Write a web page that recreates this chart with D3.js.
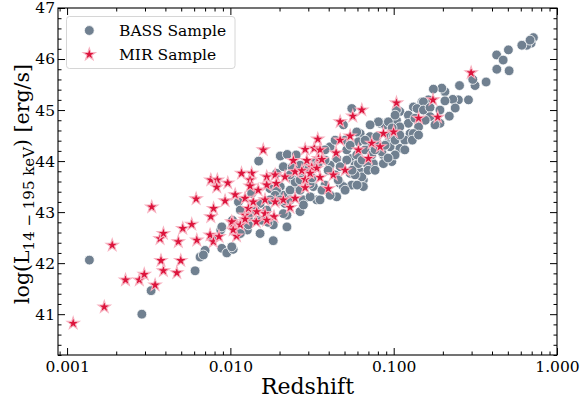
<!DOCTYPE html>
<html><head><meta charset="utf-8">
<script src="https://cdn.jsdelivr.net/npm/d3@7"></script>
<style>
body{margin:0;background:#fff}
svg{display:block}
text{font-family:"DejaVu Serif",serif;fill:#000}
</style>
</head><body>
<svg id="c" width="582" height="402"></svg>
<script>
// ---------------- data ----------------
const bassZ = [0.00137,0.00287,0.00327,0.00608,0.00652,0.00700,0.00787,0.00886,0.00873,0.00951,
0.0104,0.0103,0.0127,0.0115,0.0152,0.0183,0.0222,0.0149,0.0202,0.0223,
0.0253,0.0135,0.00886,0.0102,0.0112,0.0129,0.0202,0.0152,0.0183,0.0211,
0.0222,0.00683,0.0175,0.0211,0.0255,0.0322,0.0338,0.0280,0.0267,0.0115,
0.0129,0.0167,0.0192,0.0243,0.0408,0.0448,0.0541,0.0580,0.0623,0.0652,
0.0554,0.0470,0.0354,0.0448,0.0541,0.0623,0.0717,0.0788,0.0608,0.0516,
0.0408,0.0470,0.0274,0.0211,0.0192,0.0308,0.0216,0.0280,0.0751,0.0865,
0.0915,0.0554,0.0492,0.0826,0.0886,0.132,0.149,0.163,0.109,0.123,
0.104,0.123,0.109,0.0928,0.142,0.0974,0.109,0.0951,0.0846,0.0734,
0.0684,0.0865,0.0788,0.0928,0.126,0.0594,0.0608,0.0638,0.0652,0.0492,
0.0594,0.0516,0.0717,0.717,0.694,0.653,0.609,0.684,0.504,0.427,
0.468,0.428,0.509,0.368,0.315,0.253,0.305,0.287,0.249,0.230,
0.206,0.197,0.175,0.206,0.152,0.139,0.152,0.167,0.219,0.192,
0.167,0.104,0.132,0.0996,0.0806,0.0188,0.0232,0.0287,0.0380,0.0330,
0.0170,0.0142,0.0239,0.0438,0.0504,0.0668,0.102,0.117,0.135,0.0978,
0.0380,0.0232,0.0148,0.0175,0.0308,0.0249,0.0504,0.0580,0.0734,
0.0267,0.0316,0.0364,0.0397,0.0457,0.0556,0.0641,0.0697,0.0769,0.0886,
0.102,0.117,0.130,0.142,0.156,0.179,0.192,0.238,0.102,0.0717,
0.0668,0.0541,0.0438,0.0380,0.0267,0.0232,0.0202,0.0156,0.0267,0.0344,
0.0408,0.0597,0.0769,0.0924,0.109];
const bassL = [42.06,41.00,41.46,41.85,42.12,42.25,42.48,42.29,42.65,42.20,
42.27,42.84,42.65,42.58,42.58,42.44,42.94,44.00,44.10,44.13,
44.12,43.37,42.71,42.32,43.20,42.75,43.50,43.17,42.75,42.97,
42.71,42.16,43.46,43.33,43.50,43.50,43.24,43.24,43.01,43.04,
42.91,43.04,43.76,43.63,44.28,44.05,44.05,43.92,43.79,43.63,
43.53,43.56,43.24,43.30,43.76,44.54,44.48,44.38,44.38,44.22,
43.92,43.89,43.66,43.89,43.43,43.30,43.17,43.14,43.95,44.12,
44.35,45.03,44.71,44.74,44.71,45.06,45.16,45.20,44.97,44.90,
44.80,44.74,44.67,44.77,44.67,43.99,44.25,44.28,44.18,44.18,
43.95,43.95,44.48,44.51,44.54,44.57,43.95,43.69,43.50,43.50,
44.12,44.02,44.31,46.42,46.31,46.27,46.27,46.37,46.18,46.08,
45.98,45.80,45.77,45.55,45.48,45.48,45.60,45.20,45.20,45.21,
45.36,45.43,45.41,45.18,45.16,45.03,45.00,45.05,44.88,44.74,
44.87,45.00,44.54,44.48,44.77,43.33,43.43,43.86,43.53,43.98,
42.80,43.04,43.88,43.73,44.41,44.22,44.41,44.41,44.84,44.65,
44.02,43.24,42.84,43.24,43.55,43.59,43.43,43.73,44.12,
43.43,43.67,43.43,43.82,43.63,43.82,44.02,43.82,44.22,44.31,
44.12,44.22,44.41,44.51,44.80,44.71,45.00,45.04,44.90,44.71,
44.41,44.31,44.41,44.22,43.92,43.73,43.24,42.84,43.63,43.94,
43.33,43.53,43.82,44.06,44.51];

const mirZ = [0.00109,0.00169,0.00189,0.00228,0.00277,0.00297,0.00346,0.00330,0.00376,0.00389,
0.00371,0.00389,0.00470,0.00497,0.00480,0.00511,0.00580,0.00623,0.00617,0.00751,
0.00759,0.00789,0.00787,0.0104,0.0109,0.0123,0.0144,0.0185,0.0163,0.0232,
0.0115,0.0123,0.0159,0.0243,0.0249,0.0117,0.0135,0.00759,0.00832,0.00964,
0.00825,0.0132,0.0167,0.0188,0.0216,0.0167,0.0148,0.0132,0.0107,0.00928,
0.0123,0.0191,0.0129,0.0145,0.0163,0.0188,0.0211,0.0102,0.0167,0.00852,
0.0104,0.0287,0.0326,0.0294,0.0346,0.0274,0.0315,0.0287,0.0138,0.0638,
0.0562,0.0470,0.0865,0.0734,0.0826,0.0608,0.0700,0.0541,0.0470,0.0343,
0.0354,0.0444,0.0363,0.0338,0.0308,0.0427,0.0354,0.0504,0.0287,0.0398,
0.0249,0.104,0.142,0.186,0.174,0.0999,0.298];
const mirL = [40.82,41.14,42.35,41.67,41.67,41.78,41.57,43.10,42.05,41.85,
42.48,42.58,41.81,42.05,42.42,42.68,42.76,42.45,43.26,42.55,
42.91,43.07,42.42,42.78,42.53,42.94,42.81,42.91,42.97,43.09,
42.75,42.86,44.22,44.01,43.79,43.76,43.76,43.63,43.63,43.57,
43.49,43.63,43.69,43.73,43.69,43.53,43.43,43.51,43.34,43.22,
43.27,43.56,43.07,43.01,43.24,43.20,43.24,42.81,42.84,42.52,
42.65,44.23,44.25,44.01,44.05,43.81,43.88,43.64,43.20,45.00,
44.88,44.77,44.54,44.35,44.28,44.22,44.05,44.49,44.41,44.43,
44.22,44.16,44.03,43.86,43.76,43.73,43.68,43.82,43.48,43.46,
43.27,45.14,44.84,44.86,45.20,44.57,45.73];

const xTickValues = [0.001, 0.01, 0.1, 1];
const xTickLabels = ["0.001", "0.010", "0.100", "1.000"];
const yTickValues = [41, 42, 43, 44, 45, 46, 47];
const seriesNames = ["BASS Sample", "MIR Sample"];
const xTitle = "Redshift";

// ---------------- layout ----------------
const svg = d3.select("#c");
const L = 58, R = 557, T = 8, B = 355;
const x = d3.scaleLog().domain([0.00088, 1.0]).range([L, R]);
const y = d3.scaleLinear().domain([40.2, 47]).range([B, T]);

const bassColor = "#708090", mirColor = "#dc143c";
const tickFont = "15.5px";

const xMinor = [];
for (let e = -4; e <= 0; e++) for (let k = 2; k <= 9; k++) {
  const v = k * Math.pow(10, e);
  if (v >= x.domain()[0] && v <= x.domain()[1]) xMinor.push(v);
}
const yMinor = d3.range(40.2, 47.001, 0.2).map(v => +v.toFixed(1)).filter(v => Math.abs(v - Math.round(v)) > 1e-6);

function styleAxis(g) {
  g.select(".domain").remove();
  g.selectAll(".tick line").attr("stroke", "#000").attr("stroke-width", 1);
  g.selectAll("text").style("font-size", tickFont).attr("fill", "#000");
}

svg.append("g").attr("transform", `translate(0,${B})`)
  .call(d3.axisBottom(x).tickValues(xTickValues).tickSize(-7).tickPadding(6)
        .tickFormat((d, i) => xTickLabels[i]))
  .call(styleAxis);
svg.append("g").attr("transform", `translate(0,${B})`)
  .call(d3.axisBottom(x).tickValues(xMinor).tickSize(-3.5).tickFormat(""))
  .call(styleAxis);
svg.append("g").attr("transform", `translate(0,${T})`)
  .call(d3.axisTop(x).tickValues(xTickValues).tickSize(-7).tickFormat(""))
  .call(styleAxis);
svg.append("g").attr("transform", `translate(0,${T})`)
  .call(d3.axisTop(x).tickValues(xMinor).tickSize(-3.5).tickFormat(""))
  .call(styleAxis);
svg.append("g").attr("transform", `translate(${L},0)`)
  .call(d3.axisLeft(y).tickValues(yTickValues).tickSize(-7).tickPadding(3).tickFormat(d3.format("d")))
  .call(styleAxis);
svg.append("g").attr("transform", `translate(${L},0)`)
  .call(d3.axisLeft(y).tickValues(yMinor).tickSize(-3.5).tickFormat(""))
  .call(styleAxis);
svg.append("g").attr("transform", `translate(${R},0)`)
  .call(d3.axisRight(y).tickValues(yTickValues).tickSize(-7).tickFormat(""))
  .call(styleAxis);
svg.append("g").attr("transform", `translate(${R},0)`)
  .call(d3.axisRight(y).tickValues(yMinor).tickSize(-3.5).tickFormat(""))
  .call(styleAxis);

svg.append("rect").attr("x", L).attr("y", T).attr("width", R - L).attr("height", B - T)
  .attr("fill", "none").attr("stroke", "#000").attr("stroke-width", 1.1);

// ---------------- marks ----------------
const bass = bassZ.map((z, i) => ({z, l: bassL[i]}));
const mir = mirZ.map((z, i) => ({z, l: mirL[i]}));

svg.append("g").selectAll("circle").data(bass).join("circle")
  .attr("cx", d => x(d.z)).attr("cy", d => y(d.l)).attr("r", 4.9)
  .attr("fill", bassColor).attr("stroke", "#fff").attr("stroke-width", 0.8);

const star = d3.symbol().type(d3.symbolStar).size(48);
svg.append("g").selectAll("path").data(mir).join("path")
  .attr("d", star)
  .attr("transform", d => `translate(${x(d.z)},${y(d.l)})`)
  .attr("fill", mirColor).attr("stroke", "#f7b3c1").attr("stroke-width", 1.1);

// ---------------- legend ----------------
const lg = svg.append("g");
lg.append("rect").attr("x", 66.5).attr("y", 16.5).attr("width", 168.5).attr("height", 52)
  .attr("rx", 3).attr("fill", "#fff").attr("fill-opacity", 0.8)
  .attr("stroke", "#d6d6d6").attr("stroke-width", 1);
lg.append("circle").attr("cx", 89.3).attr("cy", 30.5).attr("r", 4.9)
  .attr("fill", bassColor).attr("stroke", "#fff").attr("stroke-width", 0.8);
lg.append("path").attr("d", star).attr("transform", "translate(89.3,54.5)")
  .attr("fill", mirColor).attr("stroke", "#f7b3c1").attr("stroke-width", 1.1);
lg.append("text").attr("x", 119).attr("y", 36).style("font-size", "15.5px").text(seriesNames[0]);
lg.append("text").attr("x", 119).attr("y", 59.5).style("font-size", "15.5px").text(seriesNames[1]);

// ---------------- axis titles ----------------
svg.append("text").attr("x", (L + R) / 2).attr("y", 394).attr("text-anchor", "middle")
  .style("font-size", "22px").text(xTitle);

const yt = svg.append("text").attr("transform", "translate(29,184) rotate(-90)")
  .attr("text-anchor", "middle").style("font-size", "20.5px");
yt.append("tspan").text("log(L");
yt.append("tspan").attr("dy", 5).style("font-size", "15px").text("14 \u2212 195 keV");
yt.append("tspan").attr("dy", -5).text(") [erg/s]");
</script>
</body></html>
